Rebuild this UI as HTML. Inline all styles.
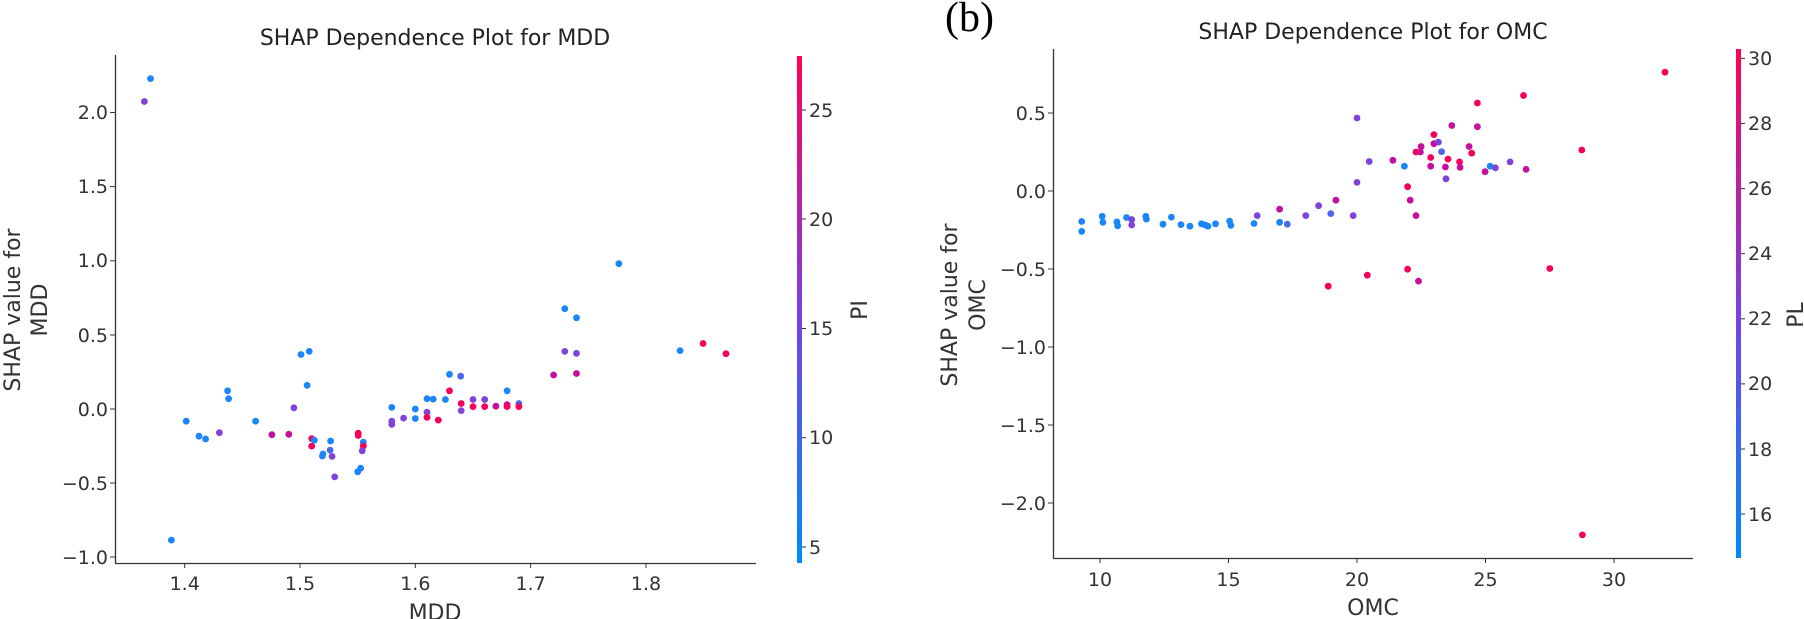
<!DOCTYPE html>
<html><head><meta charset="utf-8"><style>
html,body{margin:0;padding:0;background:#fff;}
svg{display:block;font-family:"DejaVu Sans","Liberation Sans",sans-serif;}
</style></head><body>
<svg id="s" width="1804" height="619" viewBox="0 0 1804 619" xmlns="http://www.w3.org/2000/svg">
<defs>
<linearGradient id="cg" x1="0" y1="1" x2="0" y2="0">
<stop offset="0" stop-color="#008bfb"/>
<stop offset="0.5" stop-color="#7c3fe0"/>
<stop offset="1" stop-color="#ff0052"/>
</linearGradient>
</defs>
<!-- Left plot -->
<text x="435" y="45" font-size="22" text-anchor="middle" fill="#222">SHAP Dependence Plot for MDD</text>
<line x1="115.5" y1="55" x2="115.5" y2="563" stroke="#333" stroke-width="1.3"/>
<line x1="115" y1="563.5" x2="756" y2="563.5" stroke="#333" stroke-width="1.3"/>
<g font-size="19" fill="#333" text-anchor="end">
<text x="108" y="119">2.0</text><text x="108" y="193">1.5</text><text x="108" y="267">1.0</text>
<text x="108" y="342">0.5</text><text x="108" y="416">0.0</text><text x="108" y="490">−0.5</text><text x="108" y="564">−1.0</text>
</g>
<g stroke="#333"><line x1="110" x2="115" y1="112.5" y2="112.5"/><line x1="110" x2="115" y1="186.6" y2="186.6"/><line x1="110" x2="115" y1="260.8" y2="260.8"/><line x1="110" x2="115" y1="335" y2="335"/><line x1="110" x2="115" y1="409" y2="409"/><line x1="110" x2="115" y1="483" y2="483"/><line x1="110" x2="115" y1="557" y2="557"/>
<line x1="184.7" x2="184.7" y1="563" y2="568"/><line x1="300" x2="300" y1="563" y2="568"/><line x1="415.3" x2="415.3" y1="563" y2="568"/><line x1="530.6" x2="530.6" y1="563" y2="568"/><line x1="646" x2="646" y1="563" y2="568"/></g>
<g font-size="19" fill="#333" text-anchor="middle">
<text x="184.7" y="590">1.4</text><text x="300" y="590">1.5</text><text x="415.3" y="590">1.6</text><text x="530.6" y="590">1.7</text><text x="646" y="590">1.8</text>
</g>
<text x="435" y="620" font-size="22" text-anchor="middle" fill="#333">MDD</text>
<text transform="translate(20,310) rotate(-90)" font-size="22" text-anchor="middle" fill="#333">SHAP value for</text>
<text transform="translate(47,310) rotate(-90)" font-size="22" text-anchor="middle" fill="#333">MDD</text>
<rect x="797" y="56" width="5" height="507" fill="url(#cg)"/>
<g stroke="#333"><line x1="802" x2="806" y1="110" y2="110"/><line x1="802" x2="806" y1="219" y2="219"/><line x1="802" x2="806" y1="328.5" y2="328.5"/><line x1="802" x2="806" y1="437.7" y2="437.7"/><line x1="802" x2="806" y1="547" y2="547"/></g>
<g font-size="19" fill="#333"><text x="809" y="117">25</text><text x="809" y="226">20</text><text x="809" y="335">15</text><text x="809" y="444">10</text><text x="809" y="554">5</text></g>
<text transform="translate(867,310) rotate(-90)" font-size="22" text-anchor="middle" fill="#333">PI</text>

<!-- Right plot -->
<text x="945" y="31" font-size="42" font-family="Liberation Serif, serif" fill="#000">(b)</text>
<text x="1373" y="39" font-size="22" text-anchor="middle" fill="#222">SHAP Dependence Plot for OMC</text>
<line x1="1053.5" y1="49" x2="1053.5" y2="558" stroke="#333" stroke-width="1.3"/>
<line x1="1053" y1="558.5" x2="1693" y2="558.5" stroke="#333" stroke-width="1.3"/>
<g font-size="19" fill="#333" text-anchor="end">
<text x="1046" y="120">0.5</text><text x="1046" y="198">0.0</text><text x="1046" y="276">−0.5</text><text x="1046" y="354">−1.0</text><text x="1046" y="432">−1.5</text><text x="1046" y="510">−2.0</text>
</g>
<g stroke="#333"><line x1="1048" x2="1053" y1="113" y2="113"/><line x1="1048" x2="1053" y1="191" y2="191"/><line x1="1048" x2="1053" y1="269" y2="269"/><line x1="1048" x2="1053" y1="347" y2="347"/><line x1="1048" x2="1053" y1="425" y2="425"/><line x1="1048" x2="1053" y1="503" y2="503"/>
<line x1="1100" x2="1100" y1="558" y2="563"/><line x1="1228.5" x2="1228.5" y1="558" y2="563"/><line x1="1357" x2="1357" y1="558" y2="563"/><line x1="1485.5" x2="1485.5" y1="558" y2="563"/><line x1="1614" x2="1614" y1="558" y2="563"/></g>
<g font-size="19" fill="#333" text-anchor="middle">
<text x="1100" y="586">10</text><text x="1228.5" y="586">15</text><text x="1357" y="586">20</text><text x="1485.5" y="586">25</text><text x="1614" y="586">30</text>
</g>
<text x="1373" y="615" font-size="22" text-anchor="middle" fill="#333">OMC</text>
<text transform="translate(957,305) rotate(-90)" font-size="22" text-anchor="middle" fill="#333">SHAP value for</text>
<text transform="translate(985,305) rotate(-90)" font-size="22" text-anchor="middle" fill="#333">OMC</text>
<rect x="1736" y="49" width="5" height="509" fill="url(#cg)"/>
<g stroke="#333"><line x1="1741" x2="1745" y1="58.4" y2="58.4"/><line x1="1741" x2="1745" y1="123.5" y2="123.5"/><line x1="1741" x2="1745" y1="188.6" y2="188.6"/><line x1="1741" x2="1745" y1="253.7" y2="253.7"/><line x1="1741" x2="1745" y1="318.8" y2="318.8"/><line x1="1741" x2="1745" y1="383.9" y2="383.9"/><line x1="1741" x2="1745" y1="449" y2="449"/><line x1="1741" x2="1745" y1="514" y2="514"/></g>
<g font-size="19" fill="#333"><text x="1748" y="65">30</text><text x="1748" y="130">28</text><text x="1748" y="195">26</text><text x="1748" y="260">24</text><text x="1748" y="325">22</text><text x="1748" y="390">20</text><text x="1748" y="456">18</text><text x="1748" y="521">16</text></g>
<text transform="translate(1803,315) rotate(-90)" font-size="22" text-anchor="middle" fill="#333">PL</text>
<g id="pts"></g>
</svg>
<script>
var C={b:"#1a86f8",q:"#4a68ea",p:"#8043d8",m:"#c4109c",r:"#f7005a"};
var L=[[283,257,'p'],[295,199,'b'],[336,1368,'b'],[365,1067,'b'],[390,1105,'b'],[403,1112,'b'],[430,1096,'p'],[446,990,'b'],[448,1010,'b'],[501,1067,'b'],[533,1101,'m'],[566,1100,'m'],[576,1033,'p'],[590,898,'b'],[606,890,'b'],[602,976,'b'],[611,1111,'r'],[611,1130,'r'],[616,1115,'b'],[633,1150,'b'],[632,1155,'b'],[648,1117,'b'],[647,1140,'q'],[651,1156,'p'],[656,1208,'p'],[702,1097,'r'],[702,1103,'r'],[701,1195,'b'],[707,1186,'b'],[712,1120,'b'],[712,1130,'r'],[710,1142,'p'],[768,1032,'b'],[768,1067,'p'],[768,1075,'p'],[791,1059,'p'],[814,1036,'b'],[814,1060,'b'],[837,1010,'b'],[849,1011,'b'],[837,1044,'p'],[837,1057,'r'],[859,1064,'r'],[873,1012,'b'],[881,948,'b'],[881,990,'r'],[903,953,'q'],[904,1022,'r'],[904,1040,'p'],[927,1012,'p'],[927,1030,'r'],[950,1012,'p'],[950,1030,'r'],[972,1029,'m'],[994,990,'b'],[994,1025,'m'],[994,1030,'r'],[1017,1022,'q'],[1017,1030,'r'],[1085,950,'m'],[1107,782,'b'],[1107,890,'p'],[1130,805,'b'],[1130,895,'p'],[1130,946,'m'],[1213,668,'b'],[1333,888,'b'],[1378,870,'r'],[1423,896,'r']];
var R=[[440,561,'b'],[440,586,'b'],[472,548,'b'],[473,563,'b'],[495,562,'b'],[496,572,'b'],[510,551,'b'],[518,556,'p'],[518,570,'p'],[540,548,'b'],[541,555,'b'],[567,568,'b'],[580,550,'b'],[595,569,'b'],[609,573,'b'],[627,567,'b'],[633,570,'b'],[637,573,'b'],[649,567,'b'],[671,560,'b'],[673,571,'b'],[709,566,'b'],[714,546,'p'],[749,530,'m'],[749,563,'b'],[761,568,'q'],[790,546,'p'],[810,521,'p'],[829,541,'q'],[837,507,'m'],[864,546,'p'],[870,299,'p'],[870,462,'p'],[889,409,'p'],[926,406,'m'],[944,421,'b'],[949,473,'r'],[953,507,'m'],[962,546,'m'],[962,385,'r'],[970,371,'m'],[969,385,'m'],[985,399,'r'],[985,421,'m'],[990,341,'r'],[990,364,'m'],[997,360,'p'],[1002,384,'q'],[1008,423,'m'],[1009,453,'p'],[1012,403,'r'],[1018,318,'m'],[1030,410,'r'],[1031,424,'m'],[1045,371,'m'],[1049,388,'r'],[1058,261,'r'],[1058,321,'m'],[1070,435,'m'],[1078,421,'b'],[1086,425,'p'],[1109,410,'p'],[1130,242,'r'],[1134,429,'m'],[1221,380,'r'],[1351,183,'r'],[825,725,'r'],[886,697,'r'],[949,682,'r'],[966,712,'m'],[1171,680,'r'],[1222,1355,'r']];
var g=document.getElementById('pts'),h="";
L.forEach(function(p){h+='<circle cx="'+(p[0]/1.96).toFixed(1)+'" cy="'+(p[1]/2.533).toFixed(1)+'" r="3.4" fill="'+C[p[2]]+'"/>';});
R.forEach(function(p){h+='<circle cx="'+(800+p[0]/1.5618).toFixed(1)+'" cy="'+(p[1]/2.533).toFixed(1)+'" r="3.4" fill="'+C[p[2]]+'"/>';});
g.innerHTML=h;
</script>
</body></html>
